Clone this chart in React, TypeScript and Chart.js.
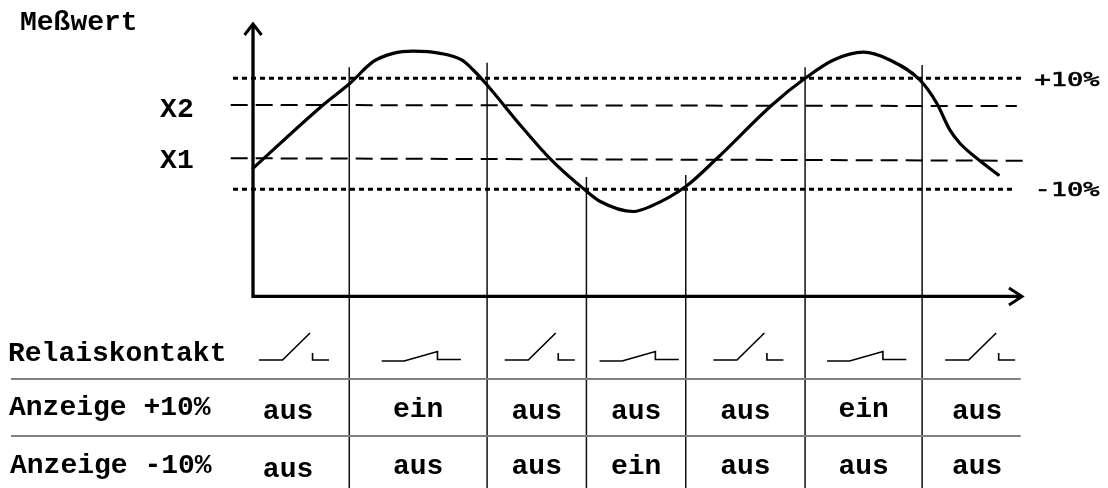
import React, { useEffect, useRef } from "react";
import { Chart, registerables } from "chart.js";

Chart.register(...registerables);

// ---- Data (x: time units 0..100 along the axis, y: deviation in %) ----
const curveT = [0, 9.1, 12.6, 15.6, 18.2, 20.8, 24.3, 27.1, 28.6, 30.4, 34.7, 38.6, 43.1, 45.1, 49.4, 51.6, 56.2, 60.2, 67.4, 71.7, 75.4, 79.3, 82.7, 86.6, 88.8, 90.5, 91.8, 94.0, 96.8];
const curveV = [-6.2, 5.2, 9.1, 13.0, 14.5, 14.9, 14.5, 13.3, 11.5, 8.8, 1.6, -4.5, -10.1, -12.2, -14.0, -13.1, -9.5, -4.5, 5.2, 10.0, 13.3, 14.7, 13.3, 9.7, 5.5, 0.7, -1.7, -4.4, -7.4];

const upperLimit = 10; // +10%
const lowerLimit = -10; // -10%
const x2Level = [5.2, 5.0];
const x1Level = [-4.4, -4.85];

const switchTimes = [12.5, 30.4, 43.3, 56.2, 71.7, 86.9];
const switchTops = [12.0, 12.8, -7.8, -7.4, 12.0, 12.4];

const relayStates = ["open", "closed", "open", "closed", "open", "closed", "open"];
const displayPlus = ["aus", "ein", "aus", "aus", "aus", "ein", "aus"];
const displayMinus = ["aus", "aus", "aus", "ein", "aus", "aus", "aus"];

const rowLabels = ["Relaiskontakt", "Anzeige +10%", "Anzeige -10%"];
const yTitle = "Meßwert";
const levelLabels = ["X2", "X1"];
const limitLabels = ["+10%", "-10%"];

// ---- Layout (scale ranges etc.) ----
const X_MIN = -32.86;
const X_MAX = 111.04;
const Y_MIN = -63.82;
const Y_MAX = 24.11;
const AXIS_BASE_V = -29.3;
const AXIS_TOP_V = 19.96;
const AXIS_END_T = 100;
const TABLE_START_T = -3.4;
const TABLE_END_T = 101.2;
const LINE_START_T = -2.6;

const seg = (pts: { x: number; y: number }[], extra: any) => ({
  type: "line" as const,
  data: pts,
  borderColor: "#000",
  pointRadius: 0,
  fill: false,
  tension: 0,
  ...extra,
});

export default function App() {
  const ref = useRef<HTMLCanvasElement | null>(null);

  useEffect(() => {
    if (!ref.current) return;
    document.body.style.margin = "0";

    const datasets: any[] = [];
    datasets.push(
      seg(
        curveT.map((t, i) => ({ x: t, y: curveV[i] })),
        { borderWidth: 3.2, cubicInterpolationMode: "monotone", borderCapStyle: "round", borderJoinStyle: "round" }
      )
    );
    datasets.push(seg([{ x: LINE_START_T, y: upperLimit }, { x: 100, y: upperLimit }], { borderWidth: 3, borderDash: [5, 4] }));
    datasets.push(seg([{ x: LINE_START_T, y: lowerLimit }, { x: 99, y: lowerLimit }], { borderWidth: 3, borderDash: [5, 4] }));
    datasets.push(seg([{ x: -2.9, y: x2Level[0] }, { x: 99.2, y: x2Level[1] }], { borderWidth: 2, borderDash: [17, 8] }));
    datasets.push(seg([{ x: -2.9, y: x1Level[0] }, { x: 100.6, y: x1Level[1] }], { borderWidth: 2, borderDash: [17, 8] }));
    switchTimes.forEach((t, i) => {
      datasets.push(seg([{ x: t, y: switchTops[i] }, { x: t, y: Y_MIN }], { borderWidth: 1.5, borderColor: "#111" }));
    });

    const overlay = {
      id: "overlay",
      afterDatasetsDraw(chart: any) {
        const ctx = chart.ctx as CanvasRenderingContext2D;
        const xs = chart.scales.x;
        const ys = chart.scales.y;
        const px = (t: number) => xs.getPixelForValue(t);
        const py = (v: number) => ys.getPixelForValue(v);
        ctx.save();
        ctx.strokeStyle = "#000";
        ctx.fillStyle = "#000";

        // axes
        const ox = px(0);
        const oy = py(AXIS_BASE_V);
        const topY = py(AXIS_TOP_V);
        const endX = px(AXIS_END_T);
        ctx.lineWidth = 3.3;
        ctx.lineCap = "butt";
        ctx.beginPath();
        ctx.moveTo(ox, oy + 1.5);
        ctx.lineTo(ox, topY + 2);
        ctx.moveTo(ox - 1.6, oy);
        ctx.lineTo(endX - 2, oy);
        ctx.stroke();
        ctx.lineWidth = 3;
        ctx.lineJoin = "miter";
        ctx.beginPath();
        ctx.moveTo(ox - 8.5, topY + 12);
        ctx.lineTo(ox, topY + 1);
        ctx.lineTo(ox + 8.5, topY + 12);
        ctx.stroke();
        ctx.beginPath();
        ctx.moveTo(endX - 14, oy - 8.5);
        ctx.lineTo(endX - 1, oy);
        ctx.lineTo(endX - 14, oy + 8.5);
        ctx.stroke();

        // column boundaries
        const bounds = [TABLE_START_T, ...switchTimes, TABLE_END_T].map(px);
        const centers = bounds.slice(0, -1).map((b, i) => (b + bounds[i + 1]) / 2);

        // table horizontal lines
        ctx.strokeStyle = "#808080";
        ctx.lineWidth = 1.8;
        const lineL = 11;
        const lineR = px(99.7);
        [py(-44.18), py(-54.45)].forEach((y) => {
          ctx.beginPath();
          ctx.moveTo(lineL, y);
          ctx.lineTo(lineR, y);
          ctx.stroke();
        });

        // relay symbols
        ctx.strokeStyle = "#000";
        ctx.lineWidth = 1.6;
        ctx.lineJoin = "miter";
        const relayBase = py(-40.76);
        relayStates.forEach((s, i) => {
          const c = centers[i] + (i === 0 ? 6 : 3);
          ctx.beginPath();
          if (s === "open") {
            ctx.moveTo(c - 35, relayBase);
            ctx.lineTo(c - 11.5, relayBase);
            ctx.lineTo(c + 16, relayBase - 27);
            ctx.moveTo(c + 18.5, relayBase - 7);
            ctx.lineTo(c + 18.5, relayBase);
            ctx.lineTo(c + 35, relayBase);
          } else {
            ctx.moveTo(c - 39.5, relayBase + 1);
            ctx.lineTo(c - 17, relayBase + 1);
            ctx.lineTo(c + 16.3, relayBase - 8.5);
            ctx.lineTo(c + 16.3, relayBase - 0.5);
            ctx.lineTo(c + 39.7, relayBase - 0.5);
          }
          ctx.stroke();
        });

        // texts
        const bold = 'bold 28px "Liberation Mono", monospace';
        ctx.font = bold;
        ctx.textBaseline = "alphabetic";
        ctx.textAlign = "left";
        ctx.fillText(yTitle, 20, 30);
        ctx.fillText(rowLabels[0], 8, 361);
        ctx.fillText(rowLabels[1], 9, 415);
        ctx.fillText(rowLabels[2], 10, 473);

        ctx.textAlign = "right";
        ctx.fillText(levelLabels[0], px(-2.9) - 37, py(x2Level[0]) + 12.5);
        ctx.fillText(levelLabels[1], px(-2.9) - 37, py(x1Level[0]) + 9.5);

        ctx.textAlign = "center";
        const row1 = py(-51.39);
        const row2 = py(-61.48);
        displayPlus.forEach((s, i) => ctx.fillText(s, centers[i], row1 + (s === "ein" ? -2 : 0)));
        displayMinus.forEach((s, i) => ctx.fillText(s, centers[i], row2 + (i === 0 ? 2 : -1)));

        // limit labels (wide glyphs)
        ctx.textAlign = "left";
        ctx.font = '19px "DejaVu Sans Mono", monospace';
        ctx.lineWidth = 0.6;
        ctx.strokeStyle = "#000";
        const drawWide = (txt: string, x: number, y: number) => {
          ctx.save();
          ctx.translate(x, y);
          ctx.scale(1.42, 1);
          ctx.fillText(txt, 0, 0);
          ctx.strokeText(txt, 0, 0);
          ctx.restore();
        };
        drawWide(limitLabels[0], px(101.5), py(upperLimit) + 8);
        drawWide(limitLabels[1], px(101.5), py(lowerLimit) + 7);
        ctx.restore();
      },
    };

    const chart = new Chart(ref.current, {
      type: "line",
      data: { datasets },
      options: {
        animation: false,
        responsive: false,
        devicePixelRatio: 1,
        layout: { padding: 0 },
        scales: {
          x: { type: "linear", min: X_MIN, max: X_MAX, display: false },
          y: { type: "linear", min: Y_MIN, max: Y_MAX, display: false },
        },
        plugins: { legend: { display: false }, tooltip: { enabled: false } },
      },
      plugins: [overlay],
    });
    return () => chart.destroy();
  }, []);

  return (
    <div style={{ position: "absolute", left: 0, top: 0, width: 1108, height: 488, background: "#fff" }}>
      <canvas ref={ref} width={1108} height={488} style={{ display: "block" }} />
    </div>
  );
}
